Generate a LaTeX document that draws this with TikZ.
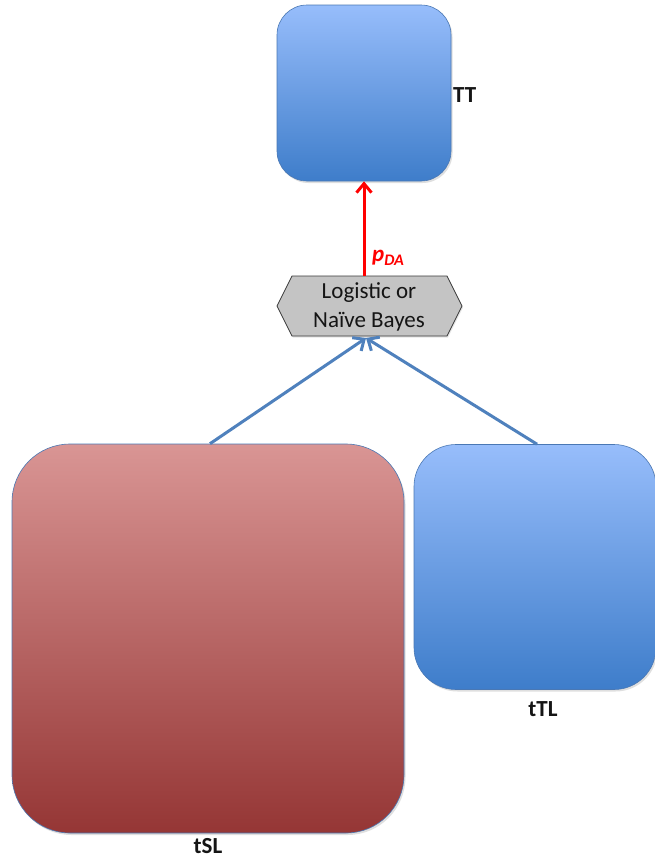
\documentclass[tikz,border=0pt]{standalone}
\usepackage{fontspec}
\setmainfont{Carlito}
\usetikzlibrary{arrows.meta,shadows,calc}
\definecolor{bluetop}{HTML}{97BDFB}
\definecolor{bluebot}{HTML}{3E7DCA}
\definecolor{redtop}{HTML}{D99594}
\definecolor{redbot}{HTML}{953635}
\definecolor{boxedge}{HTML}{4A78B4}
\definecolor{linkblue}{HTML}{4F81BD}
\definecolor{hexfill}{HTML}{C4C4C4}
\definecolor{hexedge}{HTML}{3A3A3A}
\definecolor{ink}{HTML}{151515}
\tikzset{
  x=1pt, y=-1pt,
  panel/.style={draw=boxedge, line width=0.6pt, minimum width=#1, inner sep=0pt,
    drop shadow={opacity=0.25, shadow xshift=1.5pt, shadow yshift=-2pt}},
  bluepanel/.style={panel=#1, top color=bluetop, bottom color=bluebot},
  redpanel/.style={panel=#1, top color=redtop, bottom color=redbot},
  tag/.style={font=\fontsize{23}{26}\selectfont\bfseries, text=ink, inner sep=0pt},
  link/.style={linkblue, line width=3pt, -{Straight Barb[length=9pt,width=16pt,line width=3pt]}},
  redlink/.style={red, line width=3pt, -{Straight Barb[length=9pt,width=15pt,line width=3pt]}}
}
\begin{document}
\begin{tikzpicture}
\useasboundingbox[fill=white] (0,0) rectangle (654,860);

% data boxes
\node[bluepanel=174pt, minimum height=176pt, rounded corners=30pt] (tt) at (364,93) {};
\node[redpanel=392pt, minimum height=389pt, rounded corners=58pt] (tsl) at (208,638.5) {};
\node[bluepanel=242pt, minimum height=245pt, rounded corners=42pt] (ttl) at (535,567) {};

% classifier hexagon
\coordinate (h1) at (277,306);
\coordinate (h2) at (292,276);
\coordinate (h3) at (447,276);
\coordinate (h4) at (462,306);
\coordinate (h5) at (447,336);
\coordinate (h6) at (292,336);
\filldraw[fill=hexfill, draw=hexedge, line width=0.8pt,
  drop shadow={opacity=0.2, shadow xshift=1pt, shadow yshift=-1.5pt}]
  (h1) -- (h2) -- (h3) -- (h4) -- (h5) -- (h6) -- cycle;
\node[font=\fontsize{23}{29}\selectfont, text=ink, align=center, inner sep=0pt] (hex) at (369,307)
  {Logistic or\\Naïve Bayes};
\coordinate (hexbot) at (366,338);
\coordinate (hextop) at (364,276);

% labels
\node[tag, anchor=west] (ttlab) at (453,95) {TT};
\node[tag] (tsllab) at (208,846) {tSL};
\node[tag] (ttllab) at (543,709) {tTL};

% connectors
\coordinate (tslt) at ($(tsl.north)+(2,0)$);
\coordinate (ttlt) at ($(ttl.north)+(2,0)$);
\draw[link] (tslt) -- (hexbot);
\draw[link] (ttlt) -- (hexbot);
\draw[redlink] (hextop) -- (tt.south);
\node[red, font=\fontsize{23}{24}\selectfont\bfseries\itshape, anchor=west, inner sep=0pt] (pda)
  at (372,258) {p\textsubscript{DA}};
\end{tikzpicture}
\end{document}
